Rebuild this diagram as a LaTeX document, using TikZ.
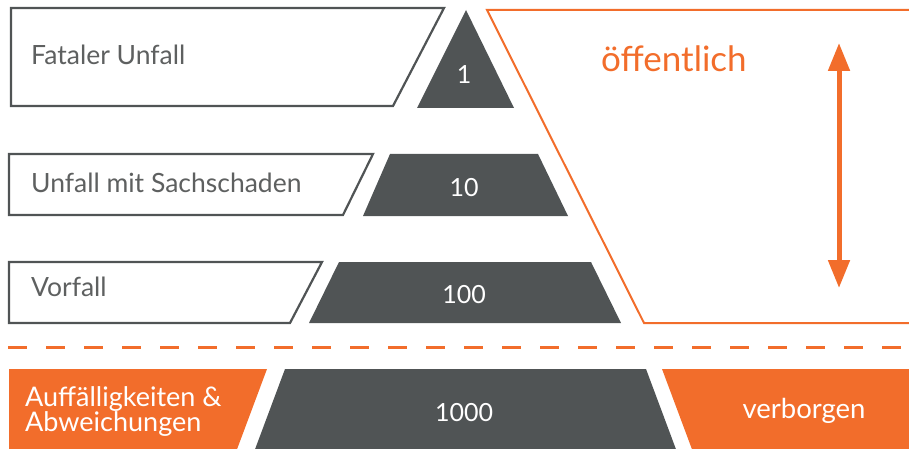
\documentclass[tikz,border=0pt]{standalone}
\usepackage{fontspec}
\setmainfont{Lato}
\usetikzlibrary{arrows.meta}
\definecolor{pyrgray}{HTML}{505455}
\definecolor{pyrorange}{HTML}{F26D2B}
\definecolor{labelgray}{HTML}{5E6060}
\tikzset{
	labelbox/.style={draw=pyrgray, line width=2.2pt, fill=white},
	level/.style={fill=pyrgray},
	labeltext/.style={anchor=base west, text=labelgray, inner sep=0pt, font=\fontsize{26.5}{30}\selectfont},
	count/.style={text=white, inner sep=0pt, font=\fontsize{25}{30}\selectfont},
}
\begin{document}
\begin{tikzpicture}[x=1pt, y=-1pt]
	\useasboundingbox (0,0) rectangle (909,449);

	%public area
	\draw[pyrorange, line width=2pt] (912,10) -- (487,10) -- (644,323) -- (912,323);
	\node[text=pyrorange, anchor=base west, inner sep=0pt, font=\fontsize{35}{40}\selectfont] (pub) at (601,72){öffentlich};
	\coordinate (arrtop) at (839,43);
	\coordinate (arrbot) at (839,288);
	\draw[pyrorange, line width=5pt, {Triangle[length=28pt,width=21pt]}-{Triangle[length=28pt,width=21pt]}] (arrtop) -- (arrbot);

	%label boxes
	\draw[labelbox] (11,8) -- (444,8) -- (393,106) -- (11,106) -- cycle;
	\draw[labelbox] (9,154) -- (373,154) -- (343,215) -- (9,215) -- cycle;
	\draw[labelbox] (9,262) -- (322,262) -- (290,323) -- (9,323) -- cycle;
	\node[labeltext] (lab1) at (31,65){Fataler Unfall};
	\node[labeltext] (lab2) at (31,192){Unfall mit Sachschaden};
	\node[labeltext] (lab3) at (31,296){Vorfall};

	%pyramid
	\fill[level] (466,10) -- (514,108) -- (417,108) -- cycle;
	\fill[level] (390,154) -- (538,154) -- (568,216) -- (363,216) -- cycle;
	\fill[level] (339,262) -- (591,262) -- (621,323) -- (309,323) -- cycle;
	\node[count] (n1) at (464,75){1};
	\node[count] (n2) at (464,188){10};
	\node[count] (n3) at (464,295){100};

	%hidden part
	\draw[pyrorange, line width=3pt, dash pattern=on 19pt off 19pt] (8,347) -- (912,347);
	\fill[pyrorange] (9,369) -- (267,369) -- (236,452) -- (9,452) -- cycle;
	\fill[level] (285,369) -- (646,369) -- (677,452) -- (254,452) -- cycle;
	\fill[pyrorange] (662,369) -- (912,369) -- (912,452) -- (693,452) -- cycle;
	\node[text=white, anchor=base west, inner sep=0pt, align=left, font=\fontsize{27}{25}\selectfont] (hid) at (25,431){Auffälligkeiten \&\\Abweichungen};
	\node[count] (n4) at (464,413){1000};
	\node[count, font=\fontsize{27.5}{30}\selectfont] (verb) at (804,411){verborgen};
\end{tikzpicture}
\end{document}
